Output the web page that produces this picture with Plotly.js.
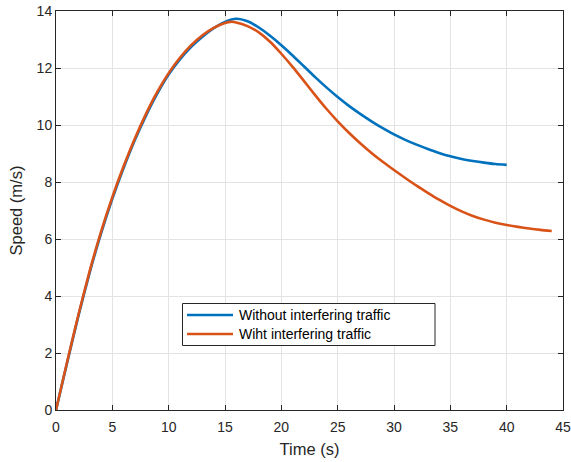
<!DOCTYPE html>
<html>
<head>
<meta charset="utf-8">
<script src="https://cdn.plot.ly/plotly-3.0.1.min.js"></script>
<style>html,body{margin:0;padding:0;background:#fff}#chart{width:571px;height:462px}</style>
</head>
<body>
<div id="chart"></div>
<script>
// Time (s) and speed (m/s)
var timeNoTraffic = [0,1,2,3,4,5,6,7,8,9,10,11,12,13,14,15,16,17,18,19,20,21,22,23,24,25,26,27,28,29,30,31,32,33,34,35,36,37,38,39,40];
var speedNoTraffic = [0,1.68,3.32,4.84,6.2,7.41,8.49,9.47,10.34,11.11,11.77,12.3,12.74,13.1,13.4,13.62,13.73,13.64,13.42,13.13,12.8,12.44,12.06,11.68,11.32,10.98,10.67,10.39,10.13,9.89,9.67,9.48,9.31,9.16,9.02,8.9,8.81,8.74,8.68,8.63,8.6];

var timeTraffic = [0,1,2,3,4,5,6,7,8,9,10,11,12,13,14,15,15.5,16,17,18,19,20,21,22,23,24,25,26,27,28,29,30,31,32,33,34,35,36,37,38,39,40,41,42,43,44];
var speedTraffic = [0,1.71,3.36,4.89,6.26,7.47,8.55,9.53,10.4,11.17,11.82,12.36,12.8,13.15,13.41,13.58,13.62,13.6,13.47,13.25,12.92,12.5,12.04,11.55,11.05,10.57,10.13,9.73,9.36,9.02,8.71,8.42,8.14,7.87,7.62,7.38,7.16,6.97,6.81,6.68,6.57,6.49,6.425,6.37,6.32,6.28];

var seriesNames = ['Without interfering traffic', 'Wiht interfering traffic'];
var seriesColors = ['#0072BD', '#D95319'];
var xTicks = [0,5,10,15,20,25,30,35,40,45];
var yTicks = [0,2,4,6,8,10,12,14];

var FONT = 'Liberation Sans, Arial, Helvetica, sans-serif';
var AX = '#262626';
var W = 571, H = 462;
var M = {l: 56, r: 8, t: 11, b: 52};

// pixel -> paper helpers for the legend box
function px(x) { return (x - M.l) / (W - M.l - M.r); }
function py(y) { return (H - M.b - y) / (H - M.t - M.b); }

var traces = [
  {x: timeNoTraffic, y: speedNoTraffic, name: seriesNames[0], mode: 'lines',
   line: {color: seriesColors[0], width: 2.6, shape: 'spline', smoothing: 0.6}},
  {x: timeTraffic, y: speedTraffic, name: seriesNames[1], mode: 'lines',
   line: {color: seriesColors[1], width: 2.6, shape: 'spline', smoothing: 0.6}}
];

// MATLAB-style legend box drawn in paper coordinates
var legBox = {x0: 182.5, x1: 435, y0: 303.5, y1: 345.5};
var legRows = [315, 334];
var shapes = [{
  type: 'rect', xref: 'paper', yref: 'paper',
  x0: px(legBox.x0), x1: px(legBox.x1), y0: py(legBox.y1), y1: py(legBox.y0),
  line: {color: AX, width: 1}, fillcolor: '#ffffff', layer: 'above'
}];
var annotations = [];
seriesNames.forEach(function (name, i) {
  shapes.push({
    type: 'line', xref: 'paper', yref: 'paper',
    x0: px(187), x1: px(233), y0: py(legRows[i]), y1: py(legRows[i]),
    line: {color: seriesColors[i], width: 2.6}, layer: 'above'
  });
  annotations.push({
    text: name, xref: 'paper', yref: 'paper', x: px(236.5), y: py(legRows[i]),
    xanchor: 'left', yanchor: 'middle', showarrow: false,
    font: {family: FONT, size: 14, color: '#000000'}
  });
});

var axisCommon = {
  showline: true, linecolor: AX, linewidth: 1, mirror: 'ticks',
  ticks: 'inside', ticklen: 5, tickwidth: 1, tickcolor: AX,
  showgrid: true, gridcolor: '#e3e3e3', gridwidth: 1,
  zeroline: false,
  tickfont: {family: FONT, size: 14, color: AX}
};

var layout = {
  width: W, height: H,
  margin: M,
  paper_bgcolor: '#ffffff', plot_bgcolor: '#ffffff',
  showlegend: false,
  shapes: shapes,
  annotations: annotations,
  xaxis: Object.assign({}, axisCommon, {
    range: [0, 45], tickvals: xTicks, ticktext: xTicks.map(String),
    ticklabelstandoff: 4,
    title: {text: 'Time (s)', font: {family: FONT, size: 16.5, color: AX}, standoff: 9}
  }),
  yaxis: Object.assign({}, axisCommon, {
    range: [0, 14], tickvals: yTicks, ticktext: yTicks.map(String),
    title: {text: 'Speed (m/s)', font: {family: FONT, size: 16.5, color: AX}, standoff: 9}
  })
};

Plotly.newPlot('chart', traces, layout, {displayModeBar: false, staticPlot: true});
</script>
</body>
</html>
